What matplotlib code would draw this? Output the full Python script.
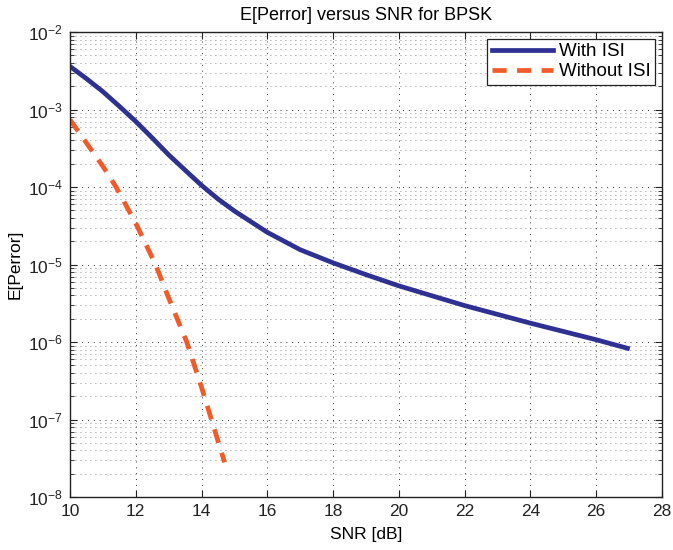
import numpy as np
import matplotlib
matplotlib.use('Agg')
import matplotlib.pyplot as plt
from matplotlib.ticker import LogLocator, MultipleLocator, NullFormatter

plt.rcParams['font.family'] = ['Liberation Sans', 'DejaVu Sans']
plt.rcParams['mathtext.fontset'] = 'custom'
plt.rcParams['mathtext.rm'] = 'Liberation Sans'

# values
snr_isi = [10, 10.5, 11, 11.5, 12, 12.5, 13, 13.5, 14, 14.5, 15, 16, 17, 18,
           19, 20, 22, 24, 26, 26.95]
perr_isi = [3.6e-3, 2.5e-3, 1.7e-3, 1.1e-3, 7.0e-4, 4.3e-4, 2.6e-4, 1.65e-4,
            1.05e-4, 7.0e-5, 4.9e-5, 2.6e-5, 1.55e-5, 1.05e-5,
            7.4e-6, 5.3e-6, 2.95e-6, 1.75e-6, 1.07e-6, 8.3e-7]

snr_no_isi = [10, 11, 11.4, 12, 12.6, 13, 13.55, 14, 14.3, 14.7]
perr_no_isi = [7.4e-4, 1.85e-4, 1.0e-4, 3.4e-5, 1.0e-5, 3.7e-6,
               1.0e-6, 2.6e-7, 1.0e-7, 2.8e-8]

y_decades = [1e-8, 1e-7, 1e-6, 1e-5, 1e-4, 1e-3, 1e-2]

blue = '#2e3192'
red = '#f15a29'

fig = plt.figure(figsize=(6.73, 5.5), dpi=100)
ax = fig.add_axes([70/673, 1-497/550, 592/673, 465/550])

ax.semilogy(snr_isi, perr_isi, '-', color=blue, lw=3.4, label='With ISI')
ax.semilogy(snr_no_isi, perr_no_isi, '--', color=red, lw=3.4,
            dashes=(3, 2.2), label='Without ISI')

ax.set_xlim(10, 28)
ax.set_ylim(1e-8, 1e-2)
ax.xaxis.set_major_locator(MultipleLocator(2))
ax.set_yticks(y_decades)
ax.yaxis.set_minor_locator(LogLocator(base=10, subs=np.arange(2, 10), numticks=20))
ax.yaxis.set_minor_formatter(NullFormatter())

ax.grid(True, which='major', axis='both', linestyle=(0, (1, 5)), color='#333333', lw=0.7)
ax.grid(True, which='minor', axis='y', linestyle=(0, (1, 5)), color='#666666', lw=0.6)

ax.tick_params(which='both', direction='in', top=True, right=True, labelsize=12.5, colors='#222222')
ax.tick_params(which='major', length=5, width=0.8, pad=5)
ax.tick_params(which='minor', length=3, width=0.6)
for s in ax.spines.values():
    s.set_linewidth(1.0)
    s.set_color('#222222')

ax.set_title('E[Perror] versus SNR for BPSK', fontsize=13, pad=9)
ax.set_xlabel('SNR [dB]', fontsize=12.5, labelpad=6)
ax.set_ylabel('E[Perror]', fontsize=12.5, labelpad=4)

leg = ax.legend(loc='upper right', fontsize=13.5, fancybox=False, framealpha=1,
                edgecolor='#222222', borderaxespad=0.35, handlelength=3.3,
                handletextpad=0.3, borderpad=0.25, labelspacing=0.15)
leg.get_frame().set_linewidth(0.9)

fig.savefig('out.png', dpi=100)
